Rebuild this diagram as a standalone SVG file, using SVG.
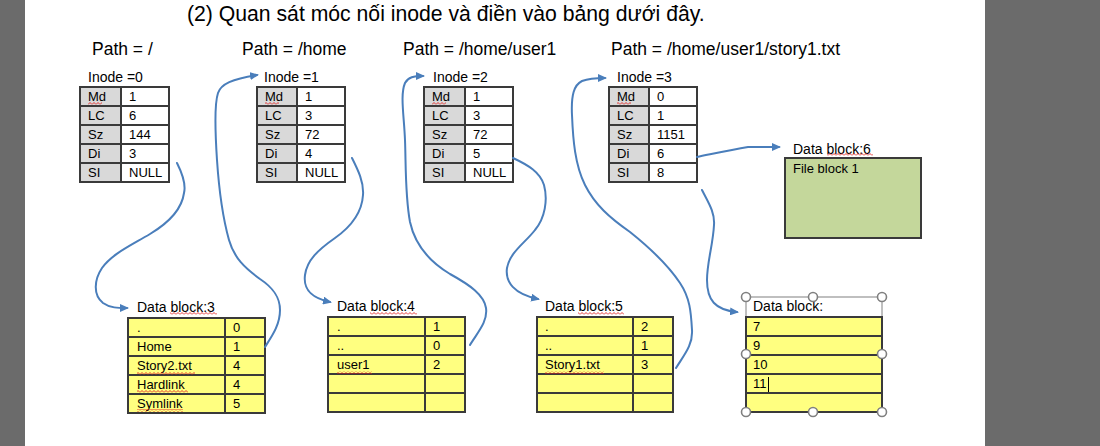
<svg xmlns="http://www.w3.org/2000/svg" width="1100" height="446" viewBox="0 0 1100 446">
<style>
  text { font-family: "Liberation Sans", Arial, sans-serif; fill: #000; }
  .title { font-size: 21.2px; }
  .path { font-size: 17.5px; }
  .lbl { font-size: 14px; }
  .cell { font-size: 13px; }
  .grid { stroke: #3a3a3a; stroke-width: 2; fill: none; }
  .key { fill: #d9d9d9; }
  .val { fill: #ffffff; }
  .yel { fill: #ffff80; }
  .conn { fill: none; stroke: #4a7ebb; stroke-width: 2; stroke-linecap: round; stroke-linejoin: round; }
  .handle { fill: #ffffff; stroke: #808080; stroke-width: 1.6; }
</style>
<defs>
  <marker id="arr" viewBox="0 0 9 8" refX="7" refY="4" markerWidth="9" markerHeight="8" markerUnits="userSpaceOnUse" orient="auto">
    <path d="M0,0 L9,4 L0,8 Z" fill="#4a7ebb"/>
  </marker>
  <pattern id="sq" patternUnits="userSpaceOnUse" x="0" y="0" width="4" height="3">
    <polyline points="0,2.5 2,0.5 4,2.5" fill="none" stroke="#e02020" stroke-width="0.9"/>
  </pattern>
</defs>

<!-- page background -->
<rect x="0" y="0" width="1100" height="446" fill="#ffffff"/>
<rect x="0" y="0" width="25" height="446" fill="#6b6b6b"/>
<rect x="985" y="0" width="115" height="446" fill="#6b6b6b"/>

<text class="title" x="187" y="21">(2) Quan sát móc nối inode và điền vào bảng dưới đây.</text>

<text class="path" x="92" y="55">Path = /</text>
<text class="path" x="242" y="55">Path = /home</text>
<text class="path" x="403" y="55">Path = /home/user1</text>
<text class="path" x="611" y="55">Path = /home/user1/story1.txt</text>

<!-- Inode 0 -->
<g id="inode0">
  <text class="lbl" x="88" y="82">Inode =0</text>
  <rect class="key" x="80" y="87" width="41" height="95"/>
  <rect class="val" x="121" y="87" width="48" height="95"/>
  <path class="grid" d="M80,87 H169 V182 H80 Z M121,87 V182 M80,106 H169 M80,125 H169 M80,144 H169 M80,163 H169"/>
  <text class="cell" x="88" y="101">Md</text><text class="cell" x="129" y="101">1</text>
  <text class="cell" x="88" y="120">LC</text><text class="cell" x="129" y="120">6</text>
  <text class="cell" x="88" y="139">Sz</text><text class="cell" x="129" y="139">144</text>
  <text class="cell" x="88" y="158">Di</text><text class="cell" x="129" y="158">3</text>
  <text class="cell" x="88" y="177">SI</text><text class="cell" x="129" y="177">NULL</text>
  <rect x="88" y="102" width="14" height="3" fill="url(#sq)"/>
</g>

<!-- Inode 1 -->
<g id="inode1">
  <text class="lbl" x="264" y="82">Inode =1</text>
  <rect class="key" x="257" y="87" width="40" height="95"/>
  <rect class="val" x="297" y="87" width="48" height="95"/>
  <path class="grid" d="M257,87 H345 V182 H257 Z M297,87 V182 M257,106 H345 M257,125 H345 M257,144 H345 M257,163 H345"/>
  <text class="cell" x="265" y="101">Md</text><text class="cell" x="305" y="101">1</text>
  <text class="cell" x="265" y="120">LC</text><text class="cell" x="305" y="120">3</text>
  <text class="cell" x="265" y="139">Sz</text><text class="cell" x="305" y="139">72</text>
  <text class="cell" x="265" y="158">Di</text><text class="cell" x="305" y="158">4</text>
  <text class="cell" x="265" y="177">SI</text><text class="cell" x="305" y="177">NULL</text>
  <rect x="265" y="102" width="14" height="3" fill="url(#sq)"/>
</g>

<!-- Inode 2 -->
<g id="inode2">
  <text class="lbl" x="433" y="82">Inode =2</text>
  <rect class="key" x="424" y="87" width="41" height="95"/>
  <rect class="val" x="465" y="87" width="48" height="95"/>
  <path class="grid" d="M424,87 H513 V182 H424 Z M465,87 V182 M424,106 H513 M424,125 H513 M424,144 H513 M424,163 H513"/>
  <text class="cell" x="432" y="101">Md</text><text class="cell" x="473" y="101">1</text>
  <text class="cell" x="432" y="120">LC</text><text class="cell" x="473" y="120">3</text>
  <text class="cell" x="432" y="139">Sz</text><text class="cell" x="473" y="139">72</text>
  <text class="cell" x="432" y="158">Di</text><text class="cell" x="473" y="158">5</text>
  <text class="cell" x="432" y="177">SI</text><text class="cell" x="473" y="177">NULL</text>
  <rect x="432" y="102" width="14" height="3" fill="url(#sq)"/>
</g>

<!-- Inode 3 -->
<g id="inode3">
  <text class="lbl" x="617" y="82">Inode =3</text>
  <rect class="key" x="609" y="87" width="40" height="95"/>
  <rect class="val" x="649" y="87" width="48" height="95"/>
  <path class="grid" d="M609,87 H697 V182 H609 Z M649,87 V182 M609,106 H697 M609,125 H697 M609,144 H697 M609,163 H697"/>
  <text class="cell" x="617" y="101">Md</text><text class="cell" x="657" y="101">0</text>
  <text class="cell" x="617" y="120">LC</text><text class="cell" x="657" y="120">1</text>
  <text class="cell" x="617" y="139">Sz</text><text class="cell" x="657" y="139">1151</text>
  <text class="cell" x="617" y="158">Di</text><text class="cell" x="657" y="158">6</text>
  <text class="cell" x="617" y="177">SI</text><text class="cell" x="657" y="177">8</text>
  <rect x="617" y="102" width="14" height="3" fill="url(#sq)"/>
</g>

<!-- Data block 6 -->
<g id="datablock6">
  <text class="lbl" x="793" y="154">Data block:6</text>
  <rect x="827" y="153" width="46" height="3" fill="url(#sq)"/>
  <rect x="785" y="158" width="136" height="80" fill="#c4d79b" stroke="#3a3a3a" stroke-width="2"/>
  <text class="cell" x="793" y="173">File block 1</text>
</g>

<!-- Data block 3 -->
<g id="datablock3">
  <text class="lbl" x="137" y="312">Data block:3</text>
  <rect x="170" y="312" width="47" height="3" fill="url(#sq)"/>
  <rect class="yel" x="128" y="318" width="137" height="95"/>
  <path class="grid" d="M128,318 H265 V413 H128 Z M225,318 V413 M128,337 H265 M128,356 H265 M128,375 H265 M128,394 H265"/>
  <text class="cell" x="137" y="332">.</text><text class="cell" x="233" y="332">0</text>
  <text class="cell" x="137" y="351">Home</text><text class="cell" x="233" y="351">1</text>
  <text class="cell" x="137" y="370">Story2.txt</text><text class="cell" x="233" y="370">4</text>
  <text class="cell" x="137" y="389">Hardlink</text><text class="cell" x="233" y="389">4</text>
  <text class="cell" x="137" y="408">Symlink</text><text class="cell" x="233" y="408">5</text>
  <rect x="137" y="372" width="58" height="3" fill="url(#sq)"/>
  <rect x="137" y="390" width="51" height="3" fill="url(#sq)"/>
  <rect x="137" y="409" width="46" height="3" fill="url(#sq)"/>
</g>

<!-- Data block 4 -->
<g id="datablock4">
  <text class="lbl" x="337" y="311">Data block:4</text>
  <rect x="370" y="312" width="47" height="3" fill="url(#sq)"/>
  <rect class="yel" x="328" y="317" width="137" height="95"/>
  <path class="grid" d="M328,317 H465 V412 H328 Z M425,317 V412 M328,336 H465 M328,355 H465 M328,374 H465 M328,393 H465"/>
  <text class="cell" x="337" y="331">.</text><text class="cell" x="433" y="331">1</text>
  <text class="cell" x="337" y="350">..</text><text class="cell" x="433" y="350">0</text>
  <text class="cell" x="337" y="369">user1</text><text class="cell" x="433" y="369">2</text>
  <rect x="337" y="371" width="35" height="3" fill="url(#sq)"/>
</g>

<!-- Data block 5 -->
<g id="datablock5">
  <text class="lbl" x="545" y="311">Data block:5</text>
  <rect x="578" y="312" width="46" height="3" fill="url(#sq)"/>
  <rect class="yel" x="537" y="317" width="136" height="95"/>
  <path class="grid" d="M537,317 H673 V412 H537 Z M633,317 V412 M537,336 H673 M537,355 H673 M537,374 H673 M537,393 H673"/>
  <text class="cell" x="545" y="331">.</text><text class="cell" x="641" y="331">2</text>
  <text class="cell" x="545" y="350">..</text><text class="cell" x="641" y="350">1</text>
  <text class="cell" x="545" y="369">Story1.txt</text><text class="cell" x="641" y="369">3</text>
  <rect x="545" y="371" width="59" height="3" fill="url(#sq)"/>
</g>

<!-- Data block (selected) -->
<g id="datablock-new">
  <rect x="746" y="297" width="136" height="115" fill="none" stroke="#808080" stroke-width="1"/>
  <text class="lbl" x="753" y="311">Data block:</text>
  <rect class="yel" x="746" y="317" width="136" height="95"/>
  <path class="grid" d="M746,317 H882 V412 H746 Z M746,336 H882 M746,355 H882 M746,374 H882 M746,393 H882"/>
  <text class="cell" x="753" y="331">7</text>
  <text class="cell" x="753" y="350">9</text>
  <text class="cell" x="753" y="369">10</text>
  <text class="cell" x="753" y="388">11</text>
  <line x1="768.5" y1="377" x2="768.5" y2="392" stroke="#000" stroke-width="1"/>
  <circle class="handle" cx="746" cy="297" r="4.5"/>
  <circle class="handle" cx="813" cy="297" r="4.5"/>
  <circle class="handle" cx="882" cy="297" r="4.5"/>
  <circle class="handle" cx="746" cy="354" r="4.5"/>
  <circle class="handle" cx="882" cy="354" r="4.5"/>
  <circle class="handle" cx="746" cy="412" r="4.5"/>
  <circle class="handle" cx="813" cy="412" r="4.5"/>
  <circle class="handle" cx="882" cy="412" r="4.5"/>
</g>

<!-- connectors -->
<g id="connectors">
  <path class="conn" marker-end="url(#arr)" d="M177,163 C183,175 186,185 184,193 C182,208 170,222 150,234 C130,246 112,254 102,268 C94,280 93,295 103,303 C110,308 118,308 127,308"/>
  <path class="conn" marker-end="url(#arr)" d="M265,347 C272,336 280,325 280,310 C280,296 272,287 260,279 C245,268 234,258 229,240 C222,215 219,190 217,160 C215,130 214,105 218,93 C221,84 232,79 257,75"/>
  <path class="conn" marker-end="url(#arr)" d="M352,158 C358,170 364,182 363,195 C362,212 352,226 335,238 C318,250 307,260 305,275 C303,290 312,298 330,302"/>
  <path class="conn" marker-end="url(#arr)" d="M470,345 C477,333 488,322 486,308 C484,295 470,285 450,274 C430,262 415,245 410,222 C405,195 406,165 405,140 C404,115 400,95 405,83 C408,77 414,76 423,76"/>
  <path class="conn" marker-end="url(#arr)" d="M513,158 C528,165 540,172 544,185 C548,200 545,218 535,230 C525,243 510,252 507,268 C505,282 514,294 538,299"/>
  <path class="conn" marker-end="url(#arr)" d="M676,368 C684,355 693,345 692,330 C691,312 690,298 680,283 C668,265 650,248 630,232 C610,218 595,205 585,185 C575,165 573,140 572,115 C571,95 574,85 582,81 C590,78 598,78 605,78"/>
  <path class="conn" marker-end="url(#arr)" d="M697,157 C712,154 730,150 748,147 L779,147"/>
  <path class="conn" marker-end="url(#arr)" d="M702,190 C708,202 715,212 714,225 C713,245 707,262 707,280 C707,300 715,310 737,312"/>
</g>
</svg>
